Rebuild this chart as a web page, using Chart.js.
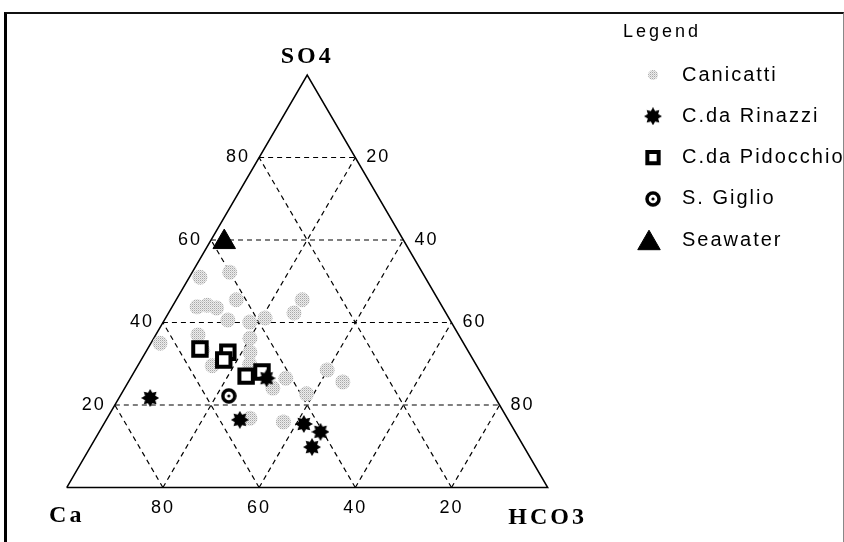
<!DOCTYPE html>
<html>
<head>
<meta charset="utf-8">
<script src="https://cdn.jsdelivr.net/npm/chart.js@4.4.1/dist/chart.umd.min.js"></script>
<style>
  html, body { margin: 0; padding: 0; background: #fff; }
  #wrap { position: relative; width: 844px; height: 542px; }
  #frame {
    position: absolute; left: 4px; top: 12px; width: 840px; height: 530px;
    border-left: 3px solid #000; border-top: 2px solid #111; border-right: 1px solid #888;
    box-sizing: border-box; pointer-events: none;
  }
</style>
</head>
<body>
<div id="wrap">
  <canvas id="ternario" width="844" height="542"></canvas>
  <div id="frame"></div>
</div>
<script>
// ======== DADOS (percentuais SO4 / HCO3, Ca = resto) ========
const gridTicks = [20, 40, 60, 80];
const seriesNames = ['Canicatti', 'C.da Rinazzi', 'C.da Pidocchio', 'S. Giglio', 'Seawater'];

const canicattiSO4  = [51.0, 52.2, 43.8, 44.2, 43.5, 45.5, 40.6, 40.1, 41.1, 35.0, 37.0, 36.2, 45.5,
                       42.3, 32.8, 29.9, 26.5, 24.1, 22.7, 28.5, 25.6, 16.8, 15.9, 29.5, 33.3];
const canicattiHCO3 = [2.2, 7.8, 5.2, 7.1, 9.4, 12.5, 13.2, 18.0, 20.7, 1.9, 8.8, 20.0, 26.2,
                       26.1, 21.7, 23.1, 32.3, 30.8, 38.5, 39.9, 44.6, 29.7, 37.1, 15.5, 11.6];

const rinazziSO4  = [21.7, 26.5, 15.4, 13.5, 9.8, 16.4];
const rinazziHCO3 = [6.5, 28.3, 41.6, 46.0, 46.1, 27.8];

const pidocchioSO4  = [33.6, 32.8, 30.9, 27.0, 28.0];
const pidocchioHCO3 = [10.9, 17.1, 17.2, 23.8, 26.6];

const giglioSO4  = [22.2];
const giglioHCO3 = [22.6];

const seawaterSO4  = [59.5];
const seawaterHCO3 = [3.0];

// ======== CONVERSAO TERNARIA ========
const K = Math.sqrt(3) / 2;
function tern(s, h) { return { x: h + s / 2, y: s * K }; }
function pontos(so4, hco3) { return so4.map((s, i) => tern(s, hco3[i])); }

// ======== SIMBOLOS ========
const canvasEl = document.getElementById('ternario');

function pontilhado() {
  const c = document.createElement('canvas');
  c.width = c.height = 2;
  const g = c.getContext('2d');
  g.fillStyle = '#ececec'; g.fillRect(0, 0, 2, 2);
  g.fillStyle = '#a8a8a8'; g.fillRect(0, 0, 1, 1);
  g.fillStyle = '#cfcfcf'; g.fillRect(1, 1, 1, 1);
  return canvasEl.getContext('2d').createPattern(c, 'repeat');
}

function estrela(tam) {
  const c = document.createElement('canvas');
  c.width = c.height = tam;
  const g = c.getContext('2d');
  const r = tam / 2, ri = r * 0.62, n = 8;
  g.beginPath();
  for (let i = 0; i < n * 2; i++) {
    const a = i * Math.PI / n - Math.PI / 2;
    const rr = i % 2 ? ri : r;
    g.lineTo(r + rr * Math.cos(a), r + rr * Math.sin(a));
  }
  g.closePath();
  g.fillStyle = '#000';
  g.fill();
  return c;
}

function anel(tam) {
  const c = document.createElement('canvas');
  c.width = c.height = tam;
  const g = c.getContext('2d');
  const r = tam / 2;
  g.strokeStyle = '#000';
  g.lineWidth = 3.5;
  g.beginPath(); g.arc(r, r, r - 2, 0, Math.PI * 2); g.stroke();
  g.fillStyle = '#000';
  g.beginPath(); g.arc(r, r, 1.6, 0, Math.PI * 2); g.fill();
  return c;
}

// ======== GRADE ========
function linha(p1, p2, dash, width) {
  return {
    data: [p1, p2], showLine: true, pointRadius: 0,
    borderColor: '#000', borderWidth: width, borderDash: dash, order: 10
  };
}

const gradeDatasets = [];
gridTicks.forEach(v => {
  gradeDatasets.push(linha(tern(v, 0), tern(v, 100 - v), [5, 4], 1.2));     // SO4 constante
  gradeDatasets.push(linha(tern(0, v), tern(100 - v, v), [5, 4], 1.2));     // HCO3 constante
  gradeDatasets.push(linha(tern(0, 100 - v), tern(100 - v, 0), [5, 4], 1.2)); // Ca constante
});
const contorno = {
  data: [tern(0, 0), tern(0, 100), tern(100, 0), tern(0, 0)],
  showLine: true, pointRadius: 0, borderColor: '#000', borderWidth: 1.5, order: 9
};

// ======== ROTULOS ========
const rotulos = {
  id: 'rotulos',
  afterDatasetsDraw(chart) {
    const { ctx, scales: { x, y } } = chart;
    const px = (s, h) => [x.getPixelForValue(h + s / 2), y.getPixelForValue(s * K)];
    ctx.save();
    ctx.fillStyle = '#000';
    ctx.font = '18px "Liberation Sans", Arial, sans-serif';
    ctx.letterSpacing = '2px';
    ctx.textBaseline = 'middle';
    gridTicks.forEach(t => {
      let [a, b] = px(t, 0);
      ctx.textAlign = 'right';
      ctx.fillText(String(t), a - 9, b);
      [a, b] = px(100 - t, t);
      ctx.textAlign = 'left';
      ctx.fillText(String(t), a + 11, b);
      [a, b] = px(0, 100 - t);
      ctx.textAlign = 'center';
      ctx.fillText(String(t), a, b + 21);
    });
    ctx.font = 'bold 24px "Liberation Serif", "Times New Roman", serif';
    ctx.letterSpacing = '3px';
    ctx.textAlign = 'center';
    let [a, b] = px(100, 0);
    ctx.fillText('SO4', a, b - 18);
    [a, b] = px(0, 0);
    ctx.fillText('Ca', a, b + 28);
    [a, b] = px(0, 100);
    ctx.fillText('HCO3', a, b + 30);
    ctx.restore();
  }
};

// ======== LEGENDA ========
const legendaRaio = [5, 0, 8, 0, 13];
const legenda = {
  id: 'legenda',
  afterDraw(chart) {
    const ctx = chart.ctx;
    ctx.save();
    ctx.textBaseline = 'middle';
    ctx.textAlign = 'left';
    ctx.fillStyle = '#000';
    ctx.font = '18px "Liberation Sans", Arial, sans-serif';
    ctx.letterSpacing = '3px';
    ctx.fillText('Legend', 623, 32);
    ctx.font = '20px "Liberation Sans", Arial, sans-serif';
    ctx.letterSpacing = '2px';
    seriesNames.forEach((nome, i) => {
      const ds = chart.data.datasets[i];
      const yy = 75 + i * 41.3;
      const xx = ds.pointStyle === 'triangle' ? 649 : 653;
      ctx.fillStyle = ds.pointBackgroundColor || '#000';
      ctx.strokeStyle = ds.pointBorderColor || '#000';
      ctx.lineWidth = ds.pointBorderWidth || 0;
      Chart.helpers.drawPoint(ctx, {
        pointStyle: ds.pointStyle, radius: legendaRaio[i], rotation: 0,
        borderWidth: ds.pointBorderWidth || 0
      }, xx, ds.pointStyle === 'triangle' ? yy + 3 : yy);
      ctx.fillStyle = '#000';
      ctx.fillText(nome, 682, yy);
    });
    ctx.restore();
  }
};

// ======== GRAFICO ========
const graficoTernario = new Chart(canvasEl, {
  type: 'scatter',
  data: {
    datasets: [
      {
        label: seriesNames[0], data: pontos(canicattiSO4, canicattiHCO3),
        pointStyle: 'circle', pointRadius: 7.5, pointBackgroundColor: pontilhado(),
        pointBorderWidth: 0, order: 3
      },
      {
        label: seriesNames[1], data: pontos(rinazziSO4, rinazziHCO3),
        pointStyle: estrela(18), pointRadius: 9, order: 1
      },
      {
        label: seriesNames[2], data: pontos(pidocchioSO4, pidocchioHCO3),
        pointStyle: 'rect', pointRadius: 9.5, pointBackgroundColor: '#fff',
        pointBorderColor: '#000', pointBorderWidth: 4, order: 2
      },
      {
        label: seriesNames[3], data: pontos(giglioSO4, giglioHCO3),
        pointStyle: anel(16), pointRadius: 8, order: 1
      },
      {
        label: seriesNames[4], data: pontos(seawaterSO4, seawaterHCO3),
        pointStyle: 'triangle', pointRadius: 13, pointBackgroundColor: '#000',
        pointBorderColor: '#000', pointBorderWidth: 1, order: 1
      },
      contorno,
      ...gradeDatasets
    ]
  },
  options: {
    responsive: false,
    animation: false,
    events: [],
    layout: { padding: 0, autoPadding: false },
    plugins: { legend: { display: false }, tooltip: { enabled: false } },
    scales: {
      x: { type: 'linear', display: false, bounds: 'data', grace: 0, min: -13.87, max: 161.6 },
      y: { type: 'linear', display: false, bounds: 'data', grace: 0, min: -11.44, max: 102.35 }
    }
  },
  plugins: [rotulos, legenda]
});
</script>
</body>
</html>
